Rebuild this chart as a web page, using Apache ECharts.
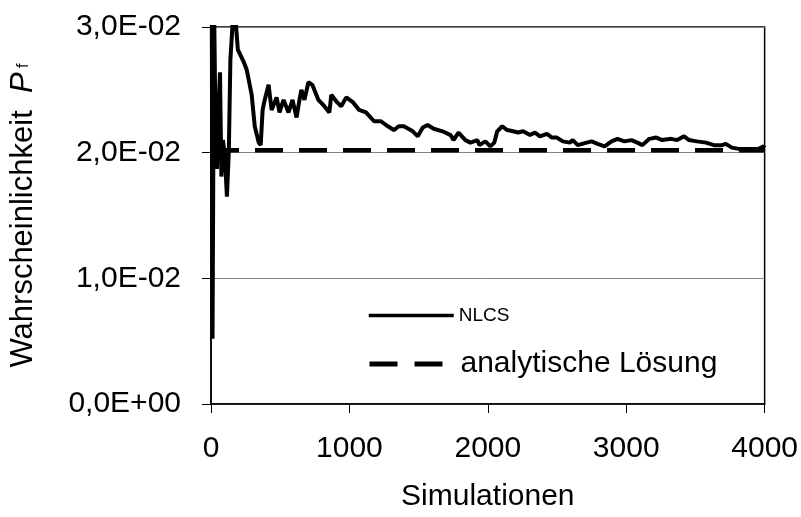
<!DOCTYPE html>
<html>
<head>
<meta charset="utf-8">
<script src="https://cdn.jsdelivr.net/npm/echarts@6/dist/echarts.min.js"></script>
<style>
html, body { margin: 0; padding: 0; background: #fff; }
#chart { width: 801px; height: 517px; }
</style>
</head>
<body>
<div id="chart"></div>
<script>
// Anzahl Simulationen und geschätzte Versagenswahrscheinlichkeit
var simulations = [2, 11, 22, 32, 43, 54, 65, 75, 86, 100, 115, 129, 140, 158, 180, 194, 208, 237, 258, 294,
	316, 345, 359, 373, 388, 416, 438, 474, 495, 524, 560, 589, 618, 639, 653, 675, 704, 732, 776, 819,
	855, 869, 912, 941, 977, 1027, 1070, 1120, 1178, 1228, 1278, 1321, 1357, 1393, 1458, 1494, 1530, 1565, 1609, 1673,
	1731, 1752, 1788, 1838, 1874, 1925, 1939, 1982, 2018, 2047, 2068, 2104, 2140, 2183, 2219, 2255, 2305, 2341, 2377, 2427,
	2463, 2499, 2542, 2592, 2614, 2650, 2714, 2750, 2793, 2844, 2894, 2937, 2987, 3038, 3081, 3117, 3167, 3217, 3260, 3325,
	3368, 3418, 3454, 3511, 3576, 3634, 3691, 3720, 3763, 3813, 3885, 3957, 3993, 4000];
var pfNlcs = [0.05, 0.0052, 0.032, 0.0226, 0.0187, 0.0234, 0.0264, 0.0181, 0.0210, 0.0198, 0.0165, 0.0202, 0.0274, 0.0306, 0.0302, 0.0282, 0.0282, 0.0272, 0.0266, 0.0246,
	0.0221, 0.0208, 0.0206, 0.0234, 0.0242, 0.0254, 0.0234, 0.0244, 0.0232, 0.0242, 0.0232, 0.0242, 0.0228, 0.0242, 0.0250, 0.0242, 0.0256, 0.0254, 0.0242, 0.0237,
	0.0232, 0.0246, 0.0240, 0.0237, 0.0244, 0.0240, 0.0234, 0.0232, 0.0225, 0.0225, 0.0221, 0.0218, 0.0221, 0.0221, 0.0217, 0.0213, 0.0220, 0.0222, 0.0219, 0.0217,
	0.0214, 0.0210, 0.0216, 0.0210, 0.0208, 0.0210, 0.0206, 0.0209, 0.0205, 0.0208, 0.0217, 0.0221, 0.0218, 0.0217, 0.0216, 0.0217, 0.0214, 0.0216, 0.0213, 0.0215,
	0.0212, 0.0212, 0.0209, 0.0208, 0.0210, 0.0206, 0.0208, 0.0209, 0.0207, 0.0205, 0.0209, 0.0211, 0.0209, 0.0210, 0.0208, 0.0206, 0.0211, 0.0212, 0.0210, 0.0211,
	0.0210, 0.0213, 0.0210, 0.0209, 0.0208, 0.0206, 0.0206, 0.0207, 0.0204, 0.0203, 0.0203, 0.0203, 0.0205, 0.0204];
var analyticX = [0, 4000];
var analyticPf = [0.0202, 0.0202];
var xTickLabels = ['0', '1000', '2000', '3000', '4000'];
var yTickLabels = ['0,0E+00', '1,0E-02', '2,0E-02', '3,0E-02'];

var font = '"Liberation Sans", Arial, sans-serif';

function pairs(xs, ys) {
	var out = [];
	for (var i = 0; i < xs.length; i++) out.push([xs[i], ys[i]]);
	return out;
}

var chart = echarts.init(document.getElementById('chart'));
chart.setOption({
	animation: false,
	textStyle: { fontFamily: font, color: '#000' },
	grid: {
		left: 209, right: 35, top: 27, bottom: 112,
		show: true, borderColor: '#000', borderWidth: 1.5
	},
	legend: [ {
		data: [ { name: 'NLCS', textStyle: { fontSize: 19 } } ],
		left: 367, top: 306, padding: 0,
		itemWidth: 85, itemHeight: 20,
		selectedMode: false,
		itemStyle: { opacity: 0 },
		lineStyle: { color: '#000', width: 3.5, type: 'solid' },
		textStyle: { fontFamily: font, color: '#000' }
	}, {
		data: [ { name: 'analytische Lösung', textStyle: { fontSize: 30 } } ],
		left: 367, top: 349, padding: 0,
		itemWidth: 86, itemHeight: 30,
		selectedMode: false,
		itemStyle: { opacity: 0 },
		lineStyle: { color: '#000', width: 5, type: [ 28, 17 ] },
		textStyle: { fontFamily: font, color: '#000' }
	} ],
	xAxis: {
		type: 'value',
		min: 0, max: 4000, interval: 1000,
		axisLine: { lineStyle: { color: '#000', width: 1.5 } },
		axisTick: { length: 9, lineStyle: { color: '#000', width: 1 } },
		axisLabel: {
			fontSize: 30, color: '#000', fontFamily: font, margin: 30,
			formatter: function (v) { return xTickLabels[Math.round(v / 1000)]; }
		},
		splitLine: { show: false },
		name: 'Simulationen',
		nameLocation: 'middle',
		nameGap: 78,
		nameTextStyle: { fontSize: 30, color: '#000', fontFamily: font }
	},
	yAxis: {
		type: 'value',
		min: 0, max: 0.03, interval: 0.01,
		axisLine: { show: true, lineStyle: { color: '#000', width: 1.5 } },
		axisTick: { show: true, length: 9, lineStyle: { color: '#000', width: 1 } },
		axisLabel: {
			fontSize: 30, color: '#000', fontFamily: font, margin: 30,
			formatter: function (v) { return yTickLabels[Math.round(v / 0.01)]; }
		},
		splitLine: { show: true, lineStyle: { color: '#808080', width: 1 } },
		name: 'Wahrscheinlichkeit  {p|P}{f| f}',
		nameLocation: 'middle',
		nameRotate: 90,
		nameGap: 172,
		nameTextStyle: {
			fontSize: 31, color: '#000', fontFamily: font,
			rich: {
				p: { fontSize: 31, fontStyle: 'italic', fontFamily: font, color: '#000' },
				f: { fontSize: 16, fontFamily: font, color: '#000', verticalAlign: 'middle' }
			}
		}
	},
	series: [ {
		name: 'analytische Lösung',
		type: 'line',
		data: pairs(analyticX, analyticPf),
		symbol: 'none',
		itemStyle: { color: '#000' },
		lineStyle: { color: '#000', width: 4.5, type: [ 28, 16 ] },
		z: 2
	}, {
		name: 'NLCS',
		type: 'line',
		data: pairs(simulations, pfNlcs),
		symbol: 'none',
		clip: true,
		itemStyle: { color: '#000' },
		lineStyle: { color: '#000', width: 4 },
		z: 3
	} ]
});
</script>
</body>
</html>
